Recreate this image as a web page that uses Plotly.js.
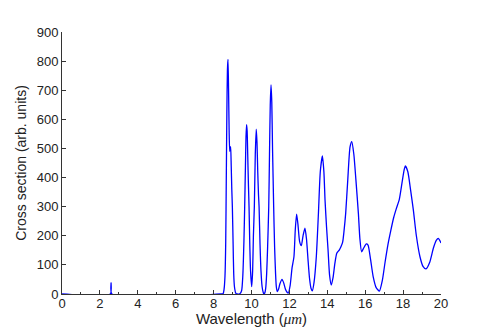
<!DOCTYPE html>
<html>
<head>
<meta charset="utf-8">
<script src="https://cdn.plot.ly/plotly-3.0.1.min.js"></script>
<style>
  html, body { margin: 0; padding: 0; background: #fff; }
  #chart { width: 491px; height: 327px; }
</style>
</head>
<body>
<div id="chart"></div>
<script>
// wavelength (um)
const wavelength = [
  0, 2.55, 2.59, 2.63, 8.40, 8.50, 8.55, 8.60, 8.64, 8.67, 8.70, 8.73, 8.76, 8.79, 8.82, 8.85, 8.88, 8.90,
  8.93, 8.96, 8.99, 9.03, 9.06, 9.10, 9.17, 9.25, 9.40, 9.48, 9.54, 9.60, 9.64, 9.68, 9.71, 9.74,
  9.77, 9.80, 9.84, 9.87, 9.91, 9.95, 10.01, 10.06, 10.10, 10.15, 10.20, 10.25, 10.29, 10.33, 10.37,
  10.40, 10.45, 10.50, 10.56, 10.62, 10.66, 10.71, 10.75, 10.80, 10.85, 10.91, 10.95, 10.99, 11.03,
  11.07, 11.11, 11.14, 11.17, 11.22, 11.27, 11.31, 11.36, 11.42, 11.50, 11.61, 11.70, 11.80, 11.94,
  12.04, 12.14, 12.24, 12.31, 12.38, 12.45, 12.54, 12.63, 12.72, 12.82, 12.90, 12.98, 13.06, 13.14,
  13.21, 13.30, 13.42, 13.53, 13.63, 13.74, 13.82, 13.88, 13.96, 14.04, 14.12, 14.21, 14.30, 14.40,
  14.50, 14.63, 14.72, 14.81, 14.88, 14.97, 15.08, 15.20, 15.29, 15.40, 15.51, 15.64, 15.72, 15.81,
  15.92, 16.06, 16.15, 16.28, 16.42, 16.58, 16.75, 16.90, 17.05, 17.20, 17.35, 17.50, 17.65, 17.80,
  17.95, 18.05, 18.12, 18.25, 18.40, 18.54, 18.70, 18.89, 19.05, 19.21, 19.40, 19.60, 19.75, 19.86,
  19.95, 20.00
];

// cross section (arb. units)
const crossSection = [
  0, 0, 38, 0, 0, 1, 15, 60, 180, 400, 620, 770, 806, 700, 560, 490, 500, 506,
  440, 360, 300, 170, 72, 25, 3, 0, 2, 12, 60, 180, 300, 440, 540, 582,
  560, 480, 370, 300, 170, 80, 25, 80, 200, 300, 480, 566, 520, 420, 340,
  300, 170, 80, 25, 5, 0, 5, 20, 70, 160, 300, 480, 650, 718,
  660, 500, 400, 300, 160, 70, 25, 8, 15, 35, 50, 38, 15, 3,
  30, 90, 128, 220, 274, 240, 180, 166, 200, 226, 190, 120, 55, 20,
  11, 40, 128, 274, 420, 474, 420, 323, 230, 151, 65, 31, 55, 105,
  140, 151, 162, 178, 215, 277, 392, 505, 523, 480, 392, 277, 190, 145,
  158, 172, 168, 120, 60, 22, 10, 45, 110, 170, 218, 262, 295, 325,
  385, 425, 440, 420, 355, 289, 200, 128, 95, 86, 108, 158, 184, 191,
  182, 175
];

const axisFont = { family: "'Liberation Sans', Arial, sans-serif", size: 13, color: '#222' };

const trace = {
  x: wavelength,
  y: crossSection,
  type: 'scatter',
  mode: 'lines',
  line: { color: 'rgb(0,0,255)', width: 1.3, shape: 'spline', smoothing: 0.6 },
  hoverinfo: 'skip'
};

const layout = {
  width: 491,
  height: 327,
  margin: { l: 62, r: 50, t: 32, b: 33 },
  paper_bgcolor: '#fff',
  plot_bgcolor: '#fff',
  showlegend: false,
  font: axisFont,
  xaxis: {
    range: [0, 20],
    dtick: 2,
    tick0: 0,
    ticks: 'inside',
    ticklen: 4,
    tickcolor: '#333',
    ticklabelstandoff: -3,
    showline: true,
    linecolor: '#333',
    linewidth: 1,
    showgrid: false,
    zeroline: false,
    tickfont: { size: 13 },
    minor: { ticks: 'inside', dtick: 1, ticklen: 2, tickcolor: '#333' },
    title: {
      text: 'Wavelength (<span style="font-family:\'Liberation Serif\', serif"><i>μm</i></span>)',
      font: { size: 15 },
      standoff: 0
    }
  },
  yaxis: {
    range: [0, 900],
    dtick: 100,
    ticks: 'inside',
    ticklen: 4,
    tickcolor: '#333',
    showline: true,
    linecolor: '#333',
    linewidth: 1,
    showgrid: false,
    zeroline: false,
    tickfont: { size: 13 },
    title: { text: 'Cross section (arb. units)', font: { size: 14 }, standoff: 6 }
  }
};

Plotly.newPlot('chart', [trace], layout, { staticPlot: true, displayModeBar: false });
</script>
</body>
</html>
